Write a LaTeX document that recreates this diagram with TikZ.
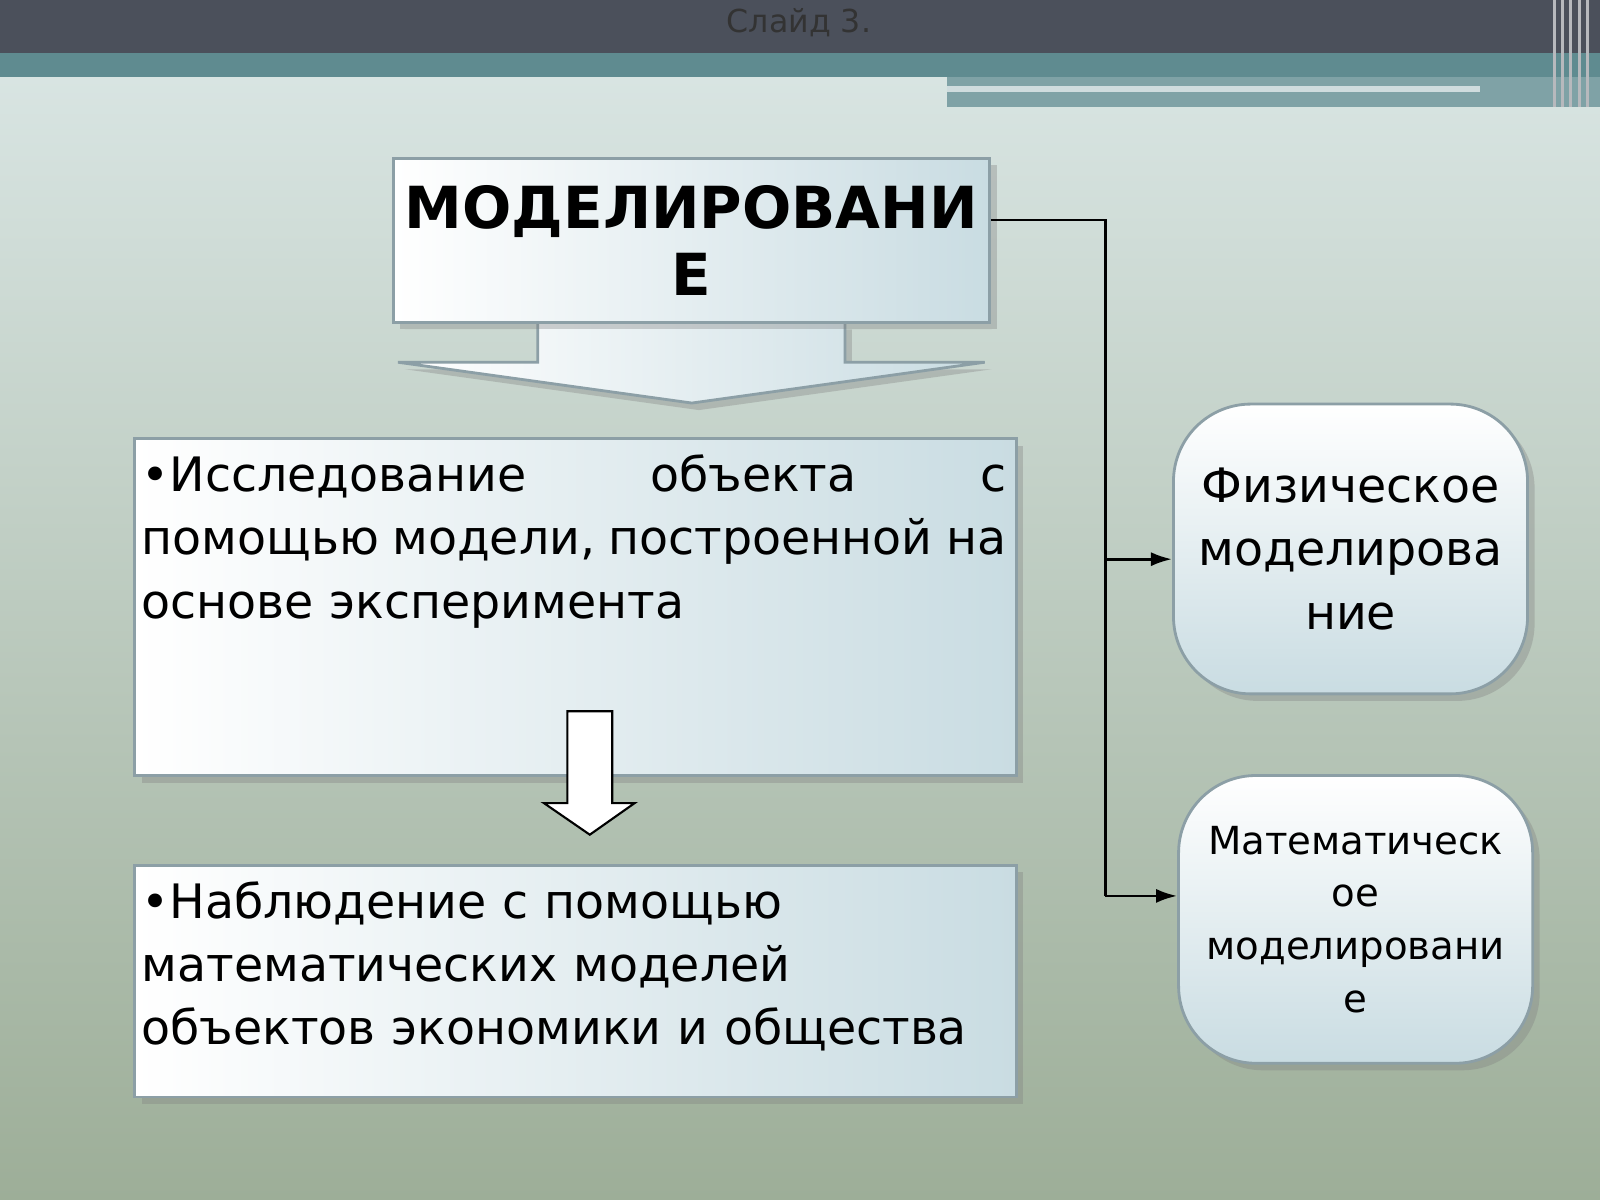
\documentclass[tikz,border=0pt]{standalone}
\usepackage{fontspec}
\setmainfont{DejaVu Sans}
\usetikzlibrary{arrows.meta, positioning, shadows}
\definecolor{topbar}{HTML}{4B505B}
\definecolor{tealband}{HTML}{5F8B90}
\definecolor{bgtop}{HTML}{DCE8E7}
\definecolor{bgbot}{HTML}{9DAE98}
\definecolor{boxedge}{HTML}{8C9FA6}
\definecolor{boxfill}{HTML}{C9DCE2}

\begin{document}
\begin{tikzpicture}[x=0.10204mm, y=-0.10204mm,
    panel/.style={rectangle, draw=boxedge, line width=0.8pt, left color=white, right color=boxfill, drop shadow={opacity=0.35, shadow xshift=2pt, shadow yshift=-2pt}},
    oval/.style={rectangle, rounded corners=22pt, draw=boxedge, line width=0.8pt, top color=white, bottom color=boxfill, align=center, drop shadow={opacity=0.35, shadow xshift=2pt, shadow yshift=-2pt}},
    arrow/.style={-{Latex[length=6pt, width=4pt]}, line width=0.8pt}
]

% background
\shade[top color=bgtop, bottom color=bgbot] (0,0) rectangle (1568,1176);
\useasboundingbox (0,0) rectangle (1568,1176);
\fill[tealband] (0,50) rectangle (1568,75);
\fill[tealband!80] (928,75) rectangle (1568,105);
\fill[white!70!tealband] (928,84) rectangle (1450,90);
\fill[topbar] (0,0) rectangle (1568,52);
\foreach \xx in {1522,1530,1538,1546,1554}
  \fill[white!60!topbar] (\xx,0) rectangle ++(3,105);
\node[text=black!80, font=\fontsize{9pt}{11pt}\selectfont] (slide) at (783,22) {Слайд 3.};

% heading with down arrow
\path[draw=boxedge, line width=0.8pt, left color=white, right color=boxfill, drop shadow={opacity=0.35, shadow xshift=2pt, shadow yshift=-2pt}]
  (390,316) -- (527,316) -- (527,355) -- (390,355) -- (678,395) -- (965,355) -- (828,355) -- (828,316) -- (965,316) -- cycle;
\node[panel, minimum width=575*0.10204mm, minimum height=161*0.10204mm, align=center,
  font=\bfseries\fontsize{16.5pt}{19pt}\selectfont] (hdr) at (677.5,235.5) {МОДЕЛИРОВАНИ\\Е};

% left boxes
\node[panel, minimum width=864*0.10204mm, minimum height=330*0.10204mm] (exp) at (564,595) {};
\node[anchor=north west, text width=246pt, align=left, inner sep=0pt,
  font=\fontsize{13.5pt}{18pt}\selectfont] (exptext) at (138,445)
  {•Исследование\hfill объекта\hfill с\\
   помощью\hfill модели,\hfill построенной\hfill на\\
   основе эксперимента};
\node[panel, minimum width=864*0.10204mm, minimum height=227*0.10204mm] (obs) at (564,961.5) {};
\node[anchor=north west, text width=250pt, align=left, inner sep=0pt,
  font=\fontsize{13.5pt}{18pt}\selectfont] (obstext) at (138,863)
  {•Наблюдение с помощью\\ математических моделей\\ объектов экономики и общества};

% hollow arrow between boxes
\draw[fill=white, line width=0.6pt] (556,697) -- (600,697) -- (600,787) -- (622,787) -- (578,818)
  -- (533,787) -- (556,787) -- cycle;

% right ovals
\node[oval, minimum width=347*0.10204mm, minimum height=284*0.10204mm,
  font=\fontsize{13.5pt}{18pt}\selectfont] (phys) at (1323.5,538) {Физическое\\моделирова\\ние};
\node[oval, minimum width=347*0.10204mm, minimum height=282*0.10204mm,
  font=\fontsize{11pt}{15pt}\selectfont] (math) at (1328.5,901) {Математическ\\ое\\моделировани\\е};

% connectors
\coordinate (ja) at (1083,548);
\coordinate (jb) at (1083,878);
\draw[line width=0.8pt] ([yshift=5.8pt]hdr.east) -| (jb);
\draw[arrow] (ja) -- (ja -| phys.west);
\draw[arrow] (jb) -- (jb -| math.west);

\end{tikzpicture}
\end{document}
